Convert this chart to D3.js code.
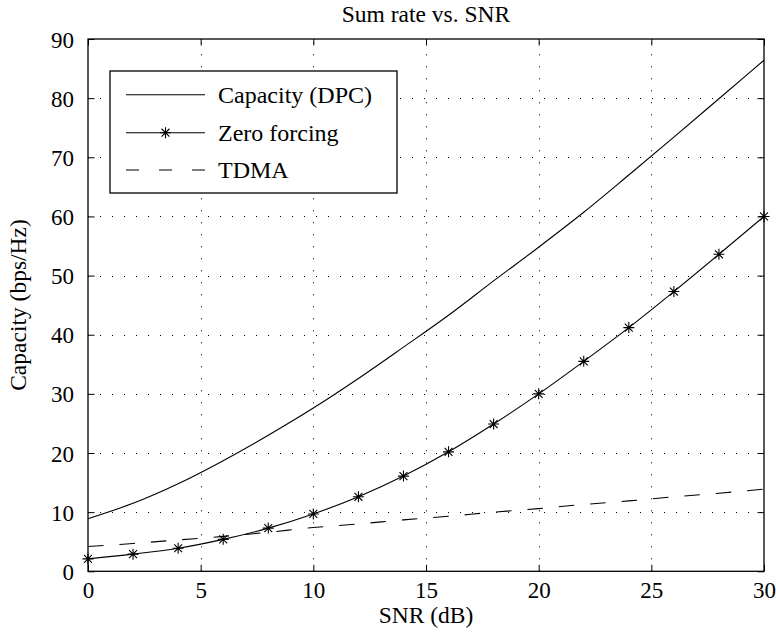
<!DOCTYPE html>
<html><head><meta charset="utf-8">
<script src="https://cdn.jsdelivr.net/npm/d3@7"></script>
<style>
html,body{margin:0;padding:0;background:#fff;}
svg{display:block;}
text{font-family:"Liberation Serif","Times New Roman",serif;fill:#000;}
</style></head>
<body>
<script>
const snr = [0,2,4,6,8,10,12,14,16,18,20,22,24,26,28,30];
const dpc = [8.9,11.5,14.8,18.7,23.0,27.6,32.6,37.9,43.3,49.1,54.8,60.7,67.0,73.4,79.9,86.4];
const zeroForcing = [2.1,2.9,3.9,5.4,7.3,9.7,12.6,16.1,20.2,24.9,30.0,35.5,41.2,47.3,53.6,60.0];
const tdma = [4.2,4.7,5.3,5.9,6.6,7.4,8.0,8.7,9.3,10.0,10.6,11.3,11.9,12.6,13.2,13.9];
const xTicks = [0,5,10,15,20,25,30];
const yTicks = [0,10,20,30,40,50,60,70,80,90];
const seriesNames = ["Capacity (DPC)","Zero forcing","TDMA"];
const titleText = "Sum rate vs. SNR";
const xLabel = "SNR (dB)";
const yLabel = "Capacity (bps/Hz)";

const W = 776, H = 638;
const L = 88, R = 764, T = 39, B = 571.3;
const svg = d3.select("body").append("svg").attr("width", W).attr("height", H);
const x = d3.scaleLinear().domain([0,30]).range([L,R]);
const y = d3.scaleLinear().domain([0,90]).range([B,T]);
const fs = 23;

// grid
const grid = svg.append("g").attr("stroke","#000").attr("stroke-width",1).attr("stroke-dasharray","1,11");
grid.selectAll(".gx").data(xTicks.slice(1,-1)).join("line")
  .attr("x1",d=>Math.round(x(d))+0.5).attr("x2",d=>Math.round(x(d))+0.5).attr("y1",B).attr("y2",T);
grid.selectAll(".gy").data(yTicks.slice(1,-1)).join("line")
  .attr("y1",d=>Math.round(y(d))+0.5).attr("y2",d=>Math.round(y(d))+0.5).attr("x1",L).attr("x2",R);

// axes with inward ticks
const tk = 6.5;
function styleAxis(g, showLabels){
  g.select(".domain").remove();
  g.selectAll(".tick line").attr("stroke","#000").attr("stroke-width",1);
  g.selectAll(".tick text").style("font-size",fs+"px").style("font-family","Liberation Serif");
  if(!showLabels) g.selectAll(".tick text").remove();
}
const gB = svg.append("g").attr("transform",`translate(0,${B})`)
  .call(d3.axisBottom(x).tickValues(xTicks).tickSizeInner(-tk).tickSizeOuter(0).tickPadding(13));
styleAxis(gB,true);
gB.selectAll(".tick text").attr("dy","0.71em").attr("y",10);
const gT = svg.append("g").attr("transform",`translate(0,${T})`)
  .call(d3.axisTop(x).tickValues(xTicks).tickSizeInner(-tk).tickSizeOuter(0));
styleAxis(gT,false);
const gL = svg.append("g").attr("transform",`translate(${L},0)`)
  .call(d3.axisLeft(y).tickValues(yTicks).tickSizeInner(-tk).tickSizeOuter(0));
styleAxis(gL,true);
gL.selectAll(".tick text").attr("x",-14).attr("dy","0.35em");
const gR = svg.append("g").attr("transform",`translate(${R},0)`)
  .call(d3.axisRight(y).tickValues(yTicks).tickSizeInner(-tk).tickSizeOuter(0));
styleAxis(gR,false);

// frame
svg.append("rect").attr("x",L).attr("y",T).attr("width",R-L).attr("height",B-T)
  .attr("fill","none").attr("stroke","#000").attr("stroke-width",1.3);

// lines
const pts = v => snr.map((s,i)=>[s,v[i]]);
const line = d3.line().x(d=>x(d[0])).y(d=>y(d[1])).curve(d3.curveMonotoneX);
const plot = svg.append("g").attr("fill","none").attr("stroke","#000").attr("stroke-width",1.1);
plot.append("path").attr("d",line(pts(dpc)));
plot.append("path").attr("d",line(pts(zeroForcing)));
plot.append("path").attr("d",line(pts(tdma))).attr("stroke-dasharray","15.5,16");

function star(g, cx, cy){
  const r = 5.5, d = r*0.72;
  const p = `M${cx-r},${cy}L${cx+r},${cy}M${cx},${cy-r}L${cx},${cy+r}M${cx-d},${cy-d}L${cx+d},${cy+d}M${cx-d},${cy+d}L${cx+d},${cy-d}`;
  g.append("path").attr("d",p).attr("stroke","#000").attr("stroke-width",1.1).attr("fill","none");
}
const mk = svg.append("g");
pts(zeroForcing).forEach(d=>star(mk, x(d[0]), y(d[1])));

// legend
const lg = svg.append("g");
lg.append("rect").attr("x",110).attr("y",71).attr("width",287).attr("height",122)
  .attr("fill","#fff").attr("stroke","#000").attr("stroke-width",1.3);
const ly = [94.7,132.7,170];
seriesNames.forEach((n,i)=>{
  const l = lg.append("line").attr("x1",126).attr("x2",205).attr("y1",ly[i]).attr("y2",ly[i])
    .attr("stroke","#000").attr("stroke-width",1.1);
  if(i===2) l.attr("stroke-dasharray","13,20");
  if(i===1) star(lg,165.5,ly[i]);
  lg.append("text").attr("x",218).attr("y",ly[i]+8).style("font-size","24px").text(n);
});

// titles
svg.append("text").attr("x",(L+R)/2).attr("y",22).attr("text-anchor","middle").style("font-size","23.5px").text(titleText);
svg.append("text").attr("x",(L+R)/2).attr("y",623).attr("text-anchor","middle").style("font-size","23.5px").text(xLabel);
svg.append("text").attr("transform",`translate(26,305) rotate(-90)`).attr("text-anchor","middle").style("font-size","23.5px").text(yLabel);
</script>
</body></html>
